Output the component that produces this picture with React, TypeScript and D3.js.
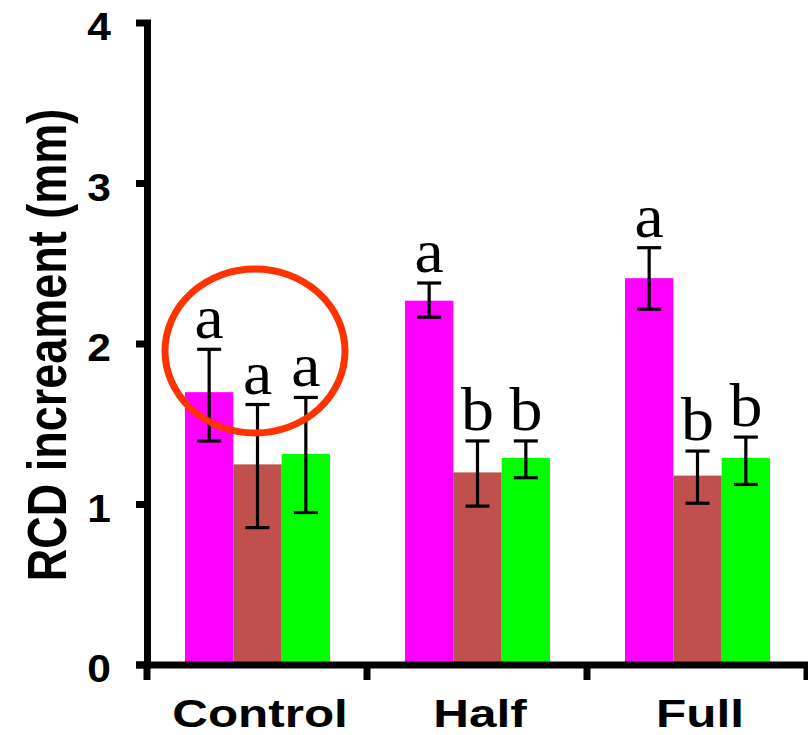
import React, {useRef, useEffect} from 'react';
import * as d3 from 'd3';

// treatment groups and the three series drawn in each
const groups = ["Control", "Half", "Full"];
const series = ["s1", "s2", "s3"];
const colors = ["#ff00ff", "#c0504d", "#00ff00"];

// bar heights (mm) per series, in group order
const s1Values = [1.70, 2.27, 2.41];
const s2Values = [1.25, 1.20, 1.18];
const s3Values = [1.315, 1.29, 1.29];

// error bar ends
const s1High = [1.967, 2.38, 2.60];
const s1Low = [1.396, 2.167, 2.217];
const s2High = [1.623, 1.396, 1.333];
const s2Low = [0.856, 0.99, 1.008];
const s3High = [1.667, 1.396, 1.42];
const s3Low = [0.95, 1.167, 1.125];

// significance letters
const s1Letters = ["a", "a", "a"];
const s2Letters = ["a", "b", "b"];
const s3Letters = ["a", "b", "b"];

const yTicks = [0, 1, 2, 3, 4];
const yLabel = "RCD increament (mm)";

const App = () => {

    const chart = useRef(null);

    useEffect(() => {
        createChart(chart);
    }, []);

    const createChart = (ref) => {
        const svg = d3.select(ref.current);
        svg.selectAll("*").remove();

        const values = [s1Values, s2Values, s3Values];
        const highs = [s1High, s2High, s3High];
        const lows = [s1Low, s2Low, s3Low];
        const letters = [s1Letters, s2Letters, s3Letters];

        const data = [];
        groups.forEach((g, gi) => {
            series.forEach((s, si) => {
                data.push({
                    group: g, series: s, color: colors[si],
                    value: values[si][gi], high: highs[si][gi], low: lows[si][gi],
                    letter: letters[si][gi]
                });
            });
        });

        const y = d3.scaleLinear().domain([0, 4]).range([665, 23]);
        const x0 = d3.scaleBand().domain(groups).range([147, 807]).padding(0);
        const x1 = d3.scaleBand().domain(series).range([38, 183]).padding(0);

        const bold = "Arial, 'Liberation Sans', sans-serif";

        // bars
        svg.append("g")
            .selectAll("rect")
            .data(data)
            .enter()
            .append("rect")
            .attr("x", d => x0(d.group) + x1(d.series))
            .attr("y", d => y(d.value))
            .attr("width", x1.bandwidth())
            .attr("height", d => y(0) - y(d.value))
            .attr("fill", d => d.color);

        // error bars
        const err = svg.append("g").attr("stroke", "black").attr("stroke-width", 3.2);
        data.forEach(d => {
            const cx = x0(d.group) + x1(d.series) + x1.bandwidth() / 2;
            err.append("line").attr("x1", cx).attr("x2", cx).attr("y1", y(d.high)).attr("y2", y(d.low));
            err.append("line").attr("x1", cx - 12).attr("x2", cx + 12).attr("y1", y(d.high)).attr("y2", y(d.high));
            err.append("line").attr("x1", cx - 12).attr("x2", cx + 12).attr("y1", y(d.low)).attr("y2", y(d.low));
        });

        // letters
        svg.append("g")
            .selectAll("text")
            .data(data)
            .enter()
            .append("text")
            .attr("transform", d => "translate(" + (x0(d.group) + x1(d.series) + x1.bandwidth() / 2) + "," + (y(d.high) - 11) + ") scale(1.08,1)")
            .attr("text-anchor", "middle")
            .attr("font-family", "'Liberation Serif', 'Times New Roman', serif")
            .attr("font-size", 61)
            .text(d => d.letter);

        // axes
        const ax = svg.append("g").attr("stroke", "black").attr("stroke-width", 7);
        ax.append("line").attr("x1", 147.5).attr("x2", 147.5).attr("y1", 20).attr("y2", 668);
        ax.append("line").attr("x1", 136).attr("x2", 808).attr("y1", 665).attr("y2", 665);
        yTicks.forEach(t => {
            ax.append("line").attr("x1", 136).attr("x2", 151).attr("y1", y(t)).attr("y2", y(t));
        });
        const bounds = groups.map(g => x0(g)).concat([x0(groups[groups.length - 1]) + x0.bandwidth()]);
        bounds.forEach(b => {
            ax.append("line").attr("x1", b).attr("x2", b).attr("y1", 665).attr("y2", 680);
        });

        // y tick labels
        yTicks.forEach(t => {
            svg.append("text")
                .attr("transform", "translate(111," + (y(t) + 17) + ") scale(1.12,1)")
                .attr("text-anchor", "end")
                .attr("font-family", bold)
                .attr("font-weight", "bold")
                .attr("font-size", 38)
                .text(t);
        });

        // category labels
        groups.forEach(g => {
            svg.append("text")
                .attr("transform", "translate(" + (x0(g) + x0.bandwidth() / 2 + 3) + ",727) scale(1.3,1)")
                .attr("text-anchor", "middle")
                .attr("font-family", bold)
                .attr("font-weight", "bold")
                .attr("font-size", 38)
                .text(g);
        });

        // y axis title
        svg.append("text")
            .attr("transform", "translate(46,345) rotate(-90) scale(1,1.25)")
            .attr("text-anchor", "middle")
            .attr("dy", "0.36em")
            .attr("font-family", bold)
            .attr("font-weight", "bold")
            .attr("font-size", 45)
            .text(yLabel);

        // highlight ellipse round the control letters
        svg.append("ellipse")
            .attr("cx", 255)
            .attr("cy", 351)
            .attr("rx", 90)
            .attr("ry", 82)
            .attr("fill", "none")
            .attr("stroke", "#ff3300")
            .attr("stroke-width", 7);
    }

    return (
        <svg ref={chart}
             width={808}
             height={735}
             style={{position: 'absolute', left: 0, top: 0, background: 'white'}}></svg>
    )
};

export default App;
